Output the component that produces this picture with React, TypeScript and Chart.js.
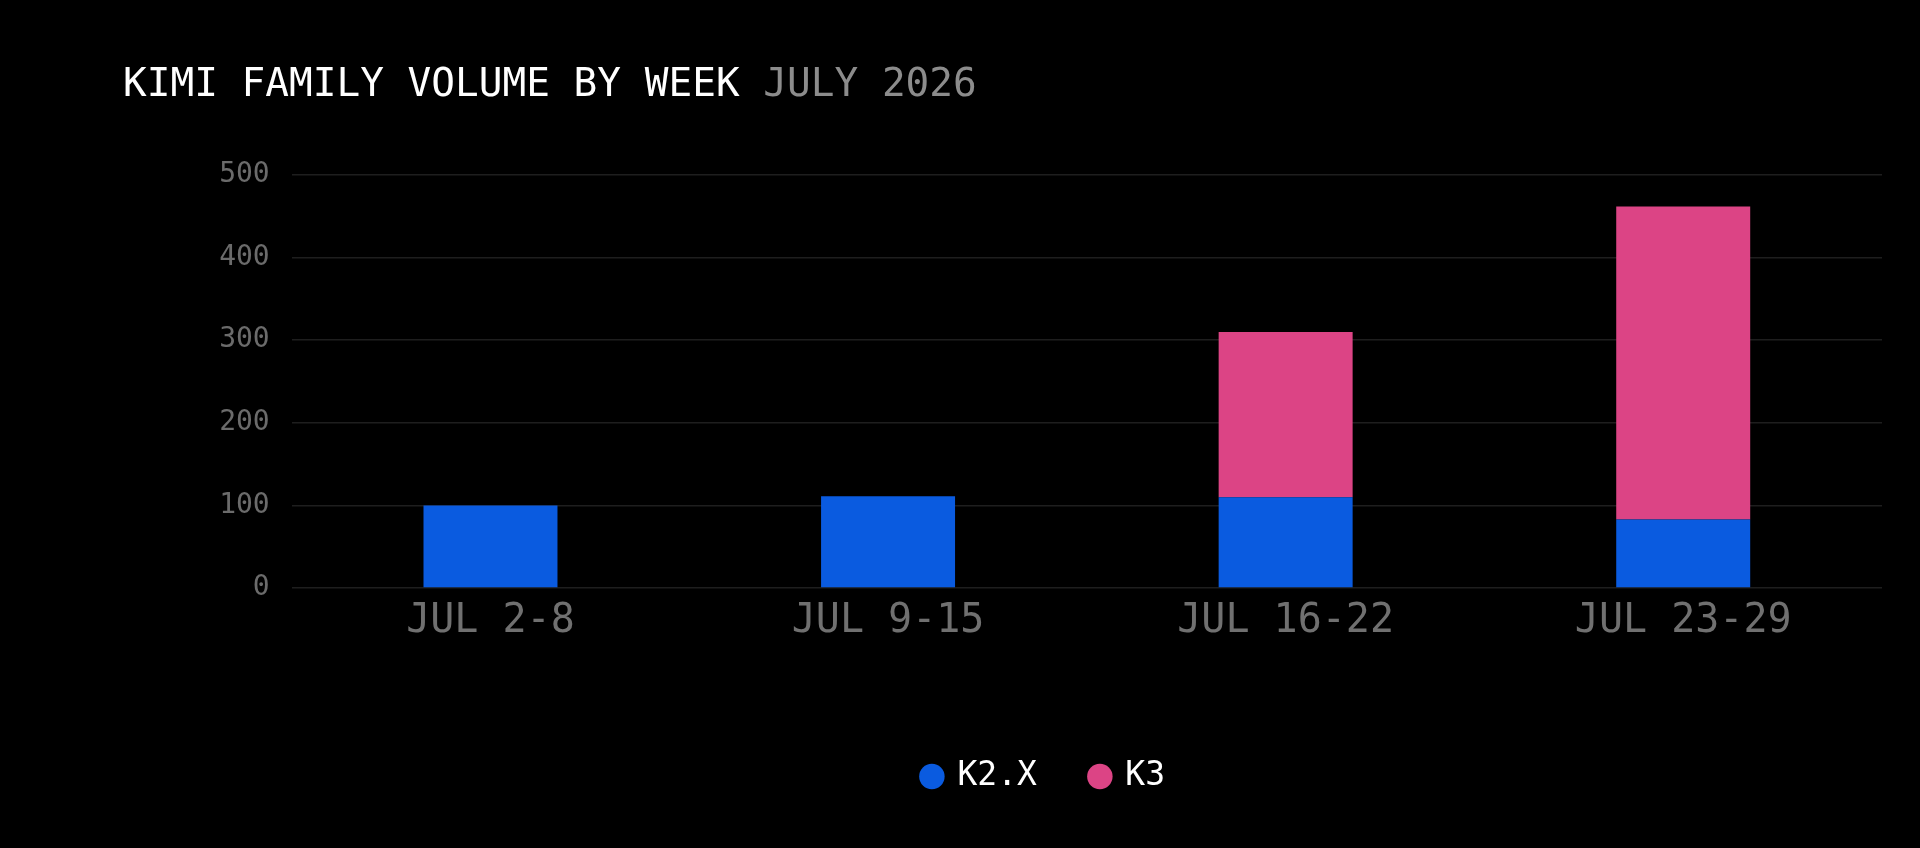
import React, { useEffect, useRef } from "react";
import { Chart, registerables } from "chart.js";

Chart.register(...registerables);

const weeks = ["JUL 2-8", "JUL 9-15", "JUL 16-22", "JUL 23-29"];
const k2xVolume = [100, 111, 110, 83];
const k3Volume = [0, 0, 200, 379];
const yTicks = [0, 100, 200, 300, 400, 500];

const titleMain = "KIMI FAMILY VOLUME BY WEEK ";
const titleSub = "JULY 2026";

const MONO = "'DejaVu Sans Mono', 'Liberation Mono', monospace";

// draws the two-tone heading in the top padding area
const titlePlugin = {
  id: "twoToneTitle",
  afterDraw(chart: Chart) {
    const ctx = chart.ctx;
    ctx.save();
    ctx.font = `39.4px ${MONO}`;
    ctx.textBaseline = "alphabetic";
    ctx.textAlign = "left";
    ctx.fillStyle = "#ffffff";
    ctx.fillText(titleMain, 123, 96);
    const w = ctx.measureText(titleMain).width;
    ctx.fillStyle = "#8c8c8c";
    ctx.fillText(titleSub, 123 + w, 96);
    ctx.restore();
  },
};

export default function App() {
  const canvasRef = useRef<HTMLCanvasElement>(null);
  const chartRef = useRef<Chart | null>(null);

  useEffect(() => {
    document.body.style.margin = "0";
    document.body.style.background = "#000";
    if (!canvasRef.current) return;
    if (chartRef.current) chartRef.current.destroy();

    chartRef.current = new Chart(canvasRef.current, {
      type: "bar",
      data: {
        labels: weeks,
        datasets: [
          {
            label: "K2.X",
            data: k2xVolume,
            backgroundColor: "#0a5be0",
            borderWidth: 0,
          },
          {
            label: "K3",
            data: k3Volume,
            backgroundColor: "#dc4485",
            borderWidth: 0,
          },
        ],
      },
      options: {
        animation: false,
        responsive: true,
        maintainAspectRatio: false,
        datasets: {
          bar: {
            categoryPercentage: 1,
            barPercentage: 0.337,
          },
        },
        layout: {
          padding: { top: 175, left: 206, right: 38, bottom: 45 },
        },
        plugins: {
          title: { display: false },
          tooltip: { enabled: false },
          legend: {
            position: "bottom",
            labels: {
              usePointStyle: true,
              pointStyle: "circle",
              boxWidth: 18,
              boxHeight: 18,
              padding: 54,
              color: "#ffffff",
              font: { family: MONO, size: 33 },
            },
          },
        },
        scales: {
          x: {
            stacked: true,
            grid: { display: false, drawTicks: false },
            border: { display: false },
            ticks: {
              color: "#707070",
              padding: 10,
              font: { family: MONO, size: 40 },
            },
            afterFit: (scale: any) => {
              scale.height = 118;
            },
          },
          y: {
            stacked: true,
            min: 0,
            max: 500,
            grid: { color: "#1e1e1e", lineWidth: 1.5, drawTicks: false },
            border: { display: false },
            afterBuildTicks: (scale: any) => {
              scale.ticks = yTicks.map((v) => ({ value: v }));
            },
            ticks: {
              color: "#6b6b6b",
              padding: 22,
              font: { family: MONO, size: 28 },
            },
            afterFit: (scale: any) => {
              scale.width = 85.7;
            },
          },
        },
      },
      plugins: [titlePlugin],
    });

    return () => {
      if (chartRef.current) {
        chartRef.current.destroy();
        chartRef.current = null;
      }
    };
  }, []);

  return (
    <div style={{ width: "1920px", height: "848px", background: "#000" }}>
      <canvas ref={canvasRef} />
    </div>
  );
}
